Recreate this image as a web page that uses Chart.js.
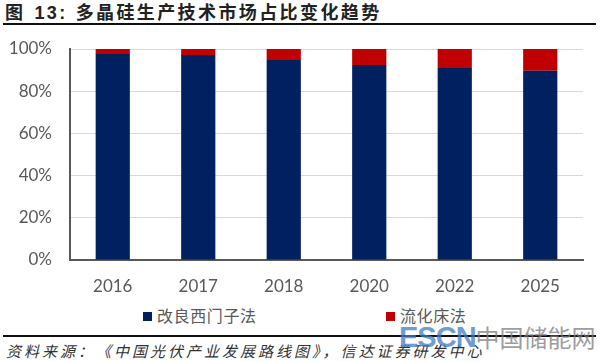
<!DOCTYPE html>
<html>
<head>
<meta charset="utf-8">
<script src="https://cdn.jsdelivr.net/npm/chart.js@4"></script>
<style>
    body {
        margin: 0;
        width: 608px;
        height: 362px;
        background: #fff;
        position: relative;
        overflow: hidden;
        font-family: Lato, "Noto Sans CJK SC", sans-serif;
    }
    #chartBox {
        position: absolute;
        left: 0;
        top: 0;
        width: 608px;
        height: 300px;
    }
    .title {
        position: absolute;
        left: 5px;
        top: -2px;
        font-family: "Noto Sans CJK SC", sans-serif;
        font-weight: bold;
        font-size: 18px;
        letter-spacing: 2.4px;
        color: #222;
        white-space: nowrap;
    }
    .title .num {
        font-family: "Liberation Sans", sans-serif;
        margin: 0 8px 0 9px;
    }
    .rule {
        position: absolute;
        left: 3px;
        width: 593px;
        height: 2px;
        background: #111;
    }
    .legend-item {
        position: absolute;
        top: 305px;
        font-family: "Noto Sans CJK SC", sans-serif;
        font-size: 16px;
        color: #595959;
        letter-spacing: 0.6px;
        white-space: nowrap;
        line-height: 20px;
    }
    .legend-item span.box {
        display: inline-block;
        width: 9px;
        height: 9px;
        margin-right: 5px;
        vertical-align: 1px;
    }
    .source {
        position: absolute;
        left: 6px;
        top: 340px;
        font-family: "Noto Sans CJK SC", sans-serif;
        font-style: italic;
        font-size: 15px;
        letter-spacing: 3px;
        color: #333;
        white-space: nowrap;
    }
    .mark {
        position: absolute;
        left: 399px;
        top: 322px;
        white-space: nowrap;
        opacity: 0.75;
        line-height: 30px;
    }
    .mark .en {
        font-family: "Liberation Sans", sans-serif;
        font-weight: bold;
        font-size: 29px;
        color: #3f7cc4;
        letter-spacing: -1px;
    }
    .mark .cn {
        font-family: "Noto Sans CJK SC", sans-serif;
        font-size: 24px;
        color: #7d7d7d;
    }
</style>
</head>
<body>
<div class="title">图<span class="num">13:</span>多晶硅生产技术市场占比变化趋势</div>
<div class="rule" style="top:23px"></div>

<div id="chartBox"><canvas id="barChart"></canvas></div>
<div id="legendBox"></div>

<div class="rule" style="top:335px"></div>
<div class="source">资料来源：《中国光伏产业发展路线图》，信达证券研发中心</div>
<div class="mark"><span class="en">ESCN</span><span class="cn">中国储能网</span></div>

<script>
const years = ["2016", "2017", "2018", "2020", "2022", "2025"];
const siemensShare = [97.6, 97.2, 94.8, 92.4, 91.0, 89.7];
const fluidShare = [2.4, 2.8, 5.2, 7.6, 9.0, 10.3];
const seriesNames = ["改良西门子法", "流化床法"];
const yTicks = [0, 20, 40, 60, 80, 100];

const axisGray = "#595959";
const tickFont = { family: "Lato", size: 17 };

const ctx = document.getElementById("barChart").getContext("2d");

const barChart = new Chart(ctx, {
    type: "bar",
    data: {
        labels: years,
        datasets: [
            {
                label: seriesNames[0],
                data: siemensShare,
                backgroundColor: "#002060"
            },
            {
                label: seriesNames[1],
                data: fluidShare,
                backgroundColor: "#c00000"
            }
        ]
    },
    options: {
        responsive: true,
        maintainAspectRatio: false,
        animation: false,
        categoryPercentage: 1,
        barPercentage: 0.4,
        layout: {
            padding: { top: 49, right: 25, left: 0, bottom: 0 }
        },
        plugins: {
            legend: { display: false },
            tooltip: { enabled: false }
        },
        scales: {
            x: {
                stacked: true,
                grid: { display: false, drawTicks: false },
                border: { color: axisGray, width: 2 },
                ticks: { color: axisGray, font: tickFont, padding: 16 },
                afterFit: scale => { scale.height = 40; }
            },
            y: {
                stacked: true,
                min: 0,
                max: 100,
                grid: { color: "#d9d9d9", lineWidth: 1, drawTicks: false },
                border: { color: axisGray, width: 2 },
                afterBuildTicks: scale => {
                    scale.ticks = yTicks.map(v => ({ value: v }));
                },
                ticks: {
                    color: axisGray,
                    font: tickFont,
                    padding: 18,
                    callback: value => `${value}%`
                },
                afterFit: scale => { scale.width = 70; }
            }
        }
    }
});

// legend built from the chart's own datasets
const legendSpots = [143, 386];
const legendBox = document.getElementById("legendBox");
barChart.data.datasets.forEach((ds, i) => {
    const item = document.createElement("div");
    item.className = "legend-item";
    item.style.left = `${legendSpots[i]}px`;
    item.innerHTML = `<span class="box" style="background:${ds.backgroundColor}"></span>${ds.label}`;
    legendBox.appendChild(item);
});
</script>
</body>
</html>
